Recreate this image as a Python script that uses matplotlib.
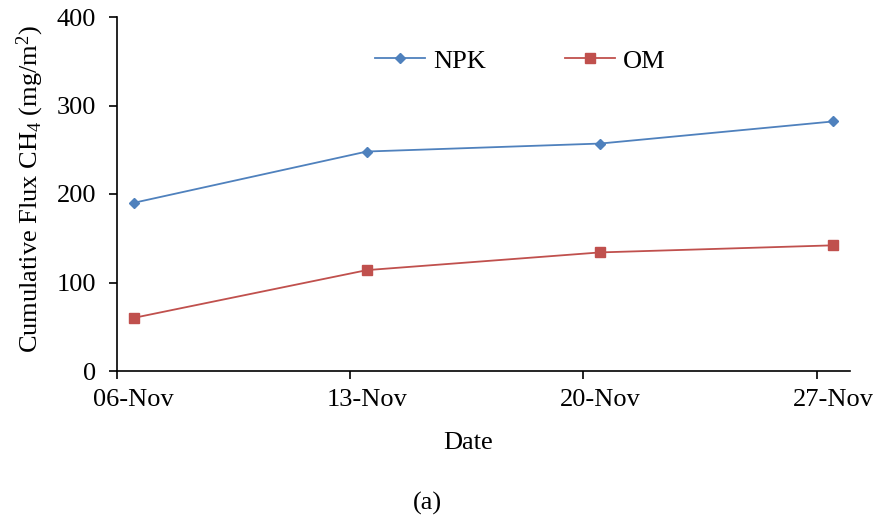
import datetime as dt
import matplotlib
matplotlib.use("Agg")
import matplotlib.pyplot as plt
import matplotlib.dates as mdates

# ===========================
# Data
# ===========================
dates = [dt.datetime(2020, 11, 6, 12), dt.datetime(2020, 11, 13, 12),
         dt.datetime(2020, 11, 20, 12), dt.datetime(2020, 11, 27, 12)]
npk = [190, 248, 257, 282]
om = [60, 114, 134, 142]
tick_days = [6, 13, 20, 27]
tick_labels = ['06-Nov', '13-Nov', '20-Nov', '27-Nov']

plt.rcParams['font.family'] = ['Liberation Serif', 'DejaVu Serif']
plt.rcParams['mathtext.fontset'] = 'custom'
plt.rcParams['mathtext.rm'] = 'Liberation Serif'
plt.rcParams['mathtext.it'] = 'Liberation Serif:italic'

fs = 19
fig = plt.figure(figsize=(8.75, 5.19), dpi=100)
ax = fig.add_axes([117 / 875, 1 - 371 / 519, (850 - 117) / 875, (371 - 17) / 519])

ax.plot(dates, npk, color='#4F81BD', marker='D', markersize=5.5, linewidth=1.3, label='NPK')
ax.plot(dates, om, color='#C0504D', marker='s', markersize=6.5, linewidth=1.3, label='OM')

ax.set_xlim(dt.datetime(2020, 11, 6), dt.datetime(2020, 11, 28))
ax.set_ylim(0, 400)
ax.set_yticks([0, 100, 200, 300, 400])

# tick marks at the day boundary, labels centred on the day (Excel date axis)
ax.set_xticks([dt.datetime(2020, 11, d) for d in tick_days])
ax.set_xticklabels([])
ax.set_xticks([dt.datetime(2020, 11, d, 12) for d in tick_days], minor=True)
ax.set_xticklabels(tick_labels, minor=True)
ax.tick_params(axis='x', which='minor', length=0, pad=13, labelsize=fs)

for s in ('top', 'right'):
    ax.spines[s].set_visible(False)
for s in ('left', 'bottom'):
    ax.spines[s].set_linewidth(1.2)
ax.tick_params(which='major', direction='out', length=6, width=1.2, labelsize=fs)
ax.tick_params(axis='y', pad=9)

ax.set_xlabel('Date', fontsize=fs)
ax.xaxis.set_label_coords((468 - 117) / 733, (371 - 443) / 354)
ax.xaxis.label.set_va('center')
ax.set_ylabel('Cumulative Flux CH$_4$ (mg/m$^2$)', fontsize=fs)
ax.yaxis.set_label_coords((30 - 117) / 733, (371 - 189) / 354)
ax.yaxis.label.set_va('center')

ax.legend(loc='center left', bbox_to_anchor=(375 / 875, 1 - 61 / 519),
          bbox_transform=fig.transFigure, ncol=2, frameon=False, fontsize=fs,
          handlelength=1.9, handletextpad=0.3, columnspacing=3.0,
          borderpad=0, borderaxespad=0)

fig.text(427 / 875, 1 - 503 / 519, '(a)', ha='center', va='center', fontsize=fs)

fig.savefig('out.png', dpi=100)
